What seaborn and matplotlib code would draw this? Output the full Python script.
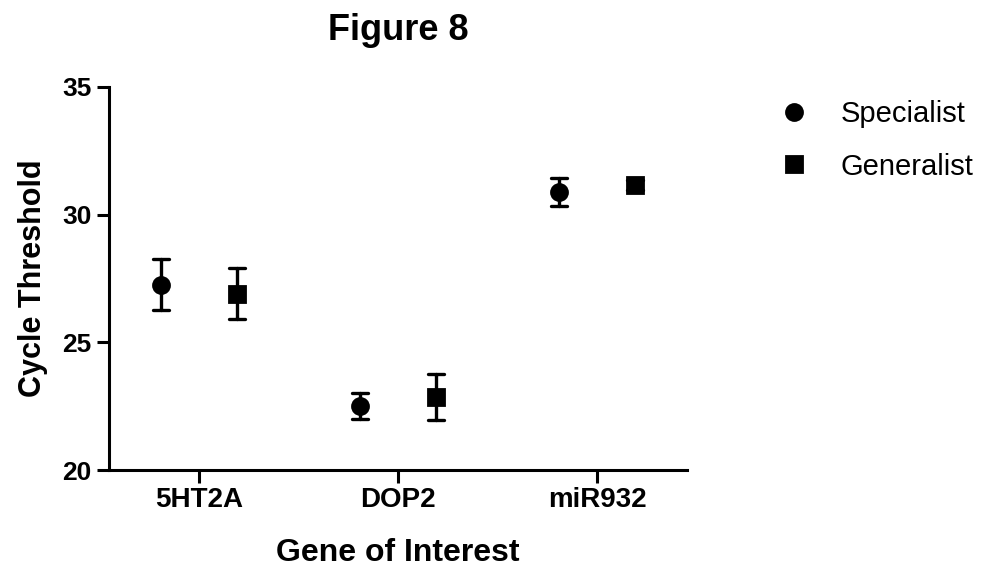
import pandas as pd
import seaborn as sns
import matplotlib.pyplot as plt

# Values (mean and error half-width)
genes = ['5HT2A', 'DOP2', 'miR932']
groups = ['Specialist', 'Generalist']
specialist_mean = [27.25, 22.5, 30.87]
specialist_err = [1.0, 0.5, 0.55]
generalist_mean = [26.9, 22.85, 31.15]
generalist_err = [1.0, 0.9, 0.2]

# Build a long table: two rows per point (mean - err, mean + err),
# so the mean is the point and min/max give the error bar
rows = []
for grp, means, errs in [('Specialist', specialist_mean, specialist_err),
                         ('Generalist', generalist_mean, generalist_err)]:
    for g, m, e in zip(genes, means, errs):
        rows.append({'gene': g, 'group': grp, 'ct': m - e})
        rows.append({'gene': g, 'group': grp, 'ct': m + e})
df = pd.DataFrame(rows)

sns.set_style('ticks')
plt.rcParams['font.family'] = ['Liberation Sans', 'DejaVu Sans']
plt.rcParams.update({'text.color': 'black', 'axes.labelcolor': 'black',
                     'xtick.color': 'black', 'ytick.color': 'black',
                     'axes.edgecolor': 'black'})

fig = plt.figure(figsize=(9.85, 5.83), dpi=100)
ax = fig.add_axes([109 / 985, 1 - 470 / 583, (687 - 109) / 985, (470 - 87) / 583])

sns.pointplot(data=df, x='gene', y='ct', hue='group', hue_order=groups, order=genes,
              estimator='mean', errorbar=lambda x: (x.min(), x.max()),
              dodge=0.38, markers=['o', 's'], linestyles='none',
              palette=['black', 'black'], capsize=0.08, markersize=11.5,
              err_kws={'linewidth': 2.4}, ax=ax)

ax.set_ylim(20, 35)
ax.set_yticks([20, 25, 30, 35])
ax.set_xlim(-0.45, 2.45)
sns.despine(ax=ax)
for s in ['left', 'bottom']:
    ax.spines[s].set_linewidth(2.2)
ax.tick_params(axis='both', width=2.2, length=9, labelsize=19)
ax.tick_params(axis='x', labelsize=20, pad=3)
for lab in ax.get_xticklabels() + ax.get_yticklabels():
    lab.set_fontweight('bold')

ax.set_xlabel('Gene of Interest', fontsize=23, fontweight='bold', labelpad=18)
ax.set_ylabel('Cycle Threshold', fontsize=22, fontweight='bold', labelpad=10)
ax.set_title('Figure 8', fontsize=26, fontweight='bold', pad=34)

handles, labels = ax.get_legend_handles_labels()
ax.legend(handles, labels, loc='upper left', bbox_to_anchor=(1.11, 1.035),
          frameon=False, fontsize=21, handletextpad=1.0, labelspacing=0.85,
          handlelength=1.2)

fig.savefig('out.png', dpi=100)
